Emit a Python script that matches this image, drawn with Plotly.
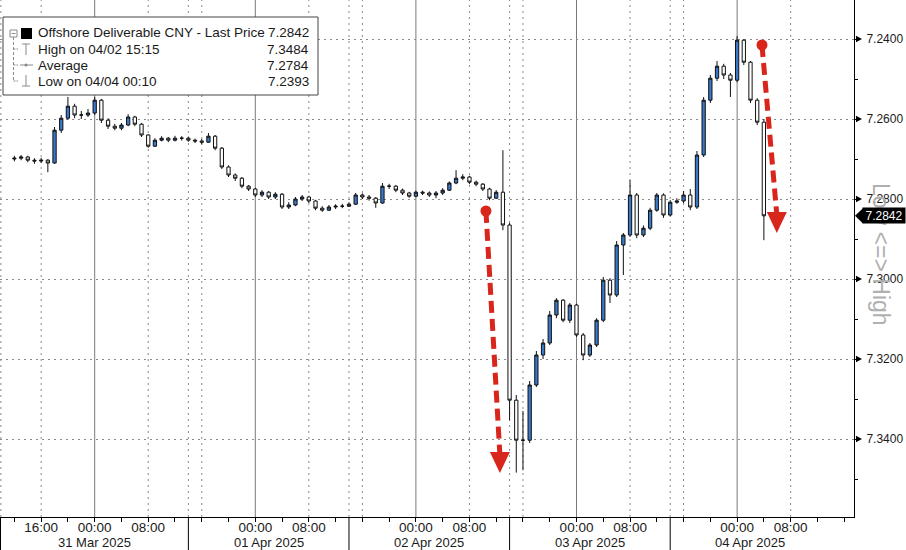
import plotly.graph_objects as go
import pandas as pd

# ---------------- data (hourly candles) ----------------
bar_start = "2025-03-30 12:00"

open_prices = [
    7.2700, 7.2698, 7.2695, 7.2703, 7.2705, 7.2703, 7.2710, 7.2628, 7.2598, 7.2568, 7.2590, 7.2590,
    7.2585, 7.2553, 7.2603, 7.2618, 7.2623, 7.2615, 7.2595, 7.2613, 7.2640, 7.2668, 7.2653, 7.2648,
    7.2653, 7.2648, 7.2648, 7.2653, 7.2655, 7.2658, 7.2643, 7.2673, 7.2720, 7.2740, 7.2748, 7.2768,
    7.2775, 7.2790, 7.2783, 7.2795, 7.2788, 7.2820, 7.2815, 7.2800, 7.2795, 7.2805, 7.2823, 7.2828,
    7.2820, 7.2818, 7.2818, 7.2813, 7.2790, 7.2795, 7.2798, 7.2810, 7.2768, 7.2768, 7.2778, 7.2785,
    7.2793, 7.2783, 7.2785, 7.2790, 7.2785, 7.2778, 7.2760, 7.2748, 7.2745, 7.2758, 7.2763, 7.2775,
    7.2798, 7.2783, 7.2865, 7.3303, 7.3403, 7.3403, 7.3265, 7.3190, 7.3160, 7.3090, 7.3053, 7.3103,
    7.3065, 7.3140, 7.3190, 7.3165, 7.3103, 7.3003, 7.3040, 7.2915, 7.2890, 7.2790, 7.2890, 7.2873,
    7.2828, 7.2790, 7.2840, 7.2808, 7.2805, 7.2790, 7.2820, 7.2690, 7.2553, 7.2498, 7.2468, 7.2490,
    7.2503, 7.2403, 7.2458, 7.2553, 7.2608,
]
high_prices = [
    7.2706, 7.2703, 7.2708, 7.2712, 7.2710, 7.2733, 7.2712, 7.2635, 7.2602, 7.2598, 7.2600, 7.2595,
    7.2590, 7.2610, 7.2625, 7.2628, 7.2628, 7.2618, 7.2618, 7.2645, 7.2672, 7.2670, 7.2656, 7.2658,
    7.2656, 7.2654, 7.2657, 7.2660, 7.2663, 7.2660, 7.2678, 7.2725, 7.2745, 7.2755, 7.2773, 7.2780,
    7.2795, 7.2795, 7.2800, 7.2800, 7.2825, 7.2825, 7.2818, 7.2805, 7.2810, 7.2828, 7.2832, 7.2830,
    7.2825, 7.2823, 7.2820, 7.2815, 7.2800, 7.2804, 7.2822, 7.2812, 7.2775, 7.2783, 7.2790, 7.2797,
    7.2796, 7.2790, 7.2795, 7.2798, 7.2790, 7.2780, 7.2763, 7.2753, 7.2763, 7.2768, 7.2780, 7.2803,
    7.2800, 7.2878, 7.3353, 7.3484, 7.3478, 7.3410, 7.3270, 7.3200, 7.3165, 7.3098, 7.3108, 7.3110,
    7.3145, 7.3203, 7.3195, 7.3170, 7.3108, 7.3060, 7.3045, 7.2990, 7.2895, 7.2898, 7.2895, 7.2878,
    7.2832, 7.2847, 7.2843, 7.2812, 7.2810, 7.2828, 7.2825, 7.2695, 7.2560, 7.2505, 7.2500, 7.2545,
    7.2508, 7.2465, 7.2560, 7.2615, 7.2903,
]
low_prices = [
    7.2692, 7.2690, 7.2692, 7.2698, 7.2697, 7.2700, 7.2620, 7.2590, 7.2545, 7.2562, 7.2580, 7.2575,
    7.2545, 7.2550, 7.2598, 7.2612, 7.2610, 7.2588, 7.2592, 7.2610, 7.2638, 7.2648, 7.2643, 7.2645,
    7.2642, 7.2643, 7.2644, 7.2649, 7.2650, 7.2635, 7.2640, 7.2670, 7.2716, 7.2736, 7.2745, 7.2765,
    7.2772, 7.2778, 7.2780, 7.2783, 7.2785, 7.2808, 7.2795, 7.2790, 7.2792, 7.2802, 7.2818, 7.2815,
    7.2813, 7.2812, 7.2808, 7.2785, 7.2786, 7.2790, 7.2795, 7.2760, 7.2762, 7.2765, 7.2774, 7.2782,
    7.2779, 7.2779, 7.2781, 7.2780, 7.2773, 7.2756, 7.2728, 7.2738, 7.2742, 7.2754, 7.2760, 7.2772,
    7.2778, 7.2678, 7.2860, 7.3290, 7.3330, 7.3255, 7.3180, 7.3150, 7.3080, 7.3048, 7.3050, 7.3060,
    7.3062, 7.3135, 7.3160, 7.3098, 7.2995, 7.2998, 7.2905, 7.2885, 7.2753, 7.2785, 7.2866, 7.2822,
    7.2785, 7.2786, 7.2803, 7.2798, 7.2780, 7.2775, 7.2680, 7.2545, 7.2490, 7.2455, 7.2462, 7.2485,
    7.2393, 7.2400, 7.2455, 7.2548, 7.2600,
]
close_prices = [
    7.2698, 7.2695, 7.2703, 7.2705, 7.2703, 7.2710, 7.2628, 7.2598, 7.2568, 7.2590, 7.2590, 7.2585,
    7.2553, 7.2603, 7.2618, 7.2623, 7.2615, 7.2595, 7.2613, 7.2640, 7.2668, 7.2653, 7.2648, 7.2653,
    7.2648, 7.2648, 7.2653, 7.2655, 7.2658, 7.2643, 7.2673, 7.2720, 7.2740, 7.2748, 7.2768, 7.2775,
    7.2790, 7.2783, 7.2795, 7.2788, 7.2820, 7.2815, 7.2800, 7.2795, 7.2805, 7.2823, 7.2828, 7.2820,
    7.2818, 7.2818, 7.2813, 7.2790, 7.2795, 7.2798, 7.2810, 7.2768, 7.2768, 7.2778, 7.2785, 7.2793,
    7.2783, 7.2785, 7.2790, 7.2785, 7.2778, 7.2760, 7.2748, 7.2745, 7.2758, 7.2763, 7.2775, 7.2798,
    7.2783, 7.2865, 7.3303, 7.3403, 7.3403, 7.3265, 7.3190, 7.3160, 7.3090, 7.3053, 7.3103, 7.3065,
    7.3140, 7.3190, 7.3165, 7.3103, 7.3003, 7.3040, 7.2915, 7.2890, 7.2790, 7.2890, 7.2873, 7.2828,
    7.2790, 7.2840, 7.2808, 7.2805, 7.2790, 7.2820, 7.2690, 7.2553, 7.2498, 7.2468, 7.2490, 7.2503,
    7.2403, 7.2458, 7.2553, 7.2608, 7.2842,
]

legend_labels = ["Offshore Deliverable CNY - Last Price", "High on 04/02 15:15", "Average", "Low on 04/04 00:10"]
legend_values = ["7.2842", "7.3484", "7.2784", "7.2393"]
last_price = 7.2842

# axis definitions
x_range = ["2025-03-30 09:51", "2025-04-04 17:28"]
y_range = [7.3595, 7.23025]
y_tick_vals = [7.24, 7.26, 7.28, 7.30, 7.32, 7.34]
y_tick_text = ["7.2400", "7.2600", "7.2800", "7.3000", "7.3200", "7.3400"]
y_minor_vals = [7.25, 7.27, 7.29, 7.31, 7.33, 7.35]
x_tick_vals = ["2025-03-30 16:00", "2025-03-31 00:00", "2025-03-31 08:00",
               "2025-04-01 00:00", "2025-04-01 08:00", "2025-04-02 00:00", "2025-04-02 08:00",
               "2025-04-03 00:00", "2025-04-03 08:00", "2025-04-04 00:00", "2025-04-04 08:00"]
x_tick_text = ["16:00", "00:00", "08:00", "00:00", "08:00", "00:00", "08:00", "00:00", "08:00", "00:00", "08:00"]
midnight_lines = ["2025-03-31 00:00", "2025-04-01 00:00", "2025-04-02 00:00", "2025-04-03 00:00", "2025-04-04 00:00"]
dotted_lines = ["2025-03-30 16:00", "2025-03-31 08:00", "2025-03-31 16:00", "2025-04-01 08:00", "2025-04-01 16:00",
                "2025-04-02 08:00", "2025-04-02 16:00", "2025-04-03 08:00", "2025-04-03 16:00", "2025-04-04 08:00"]
day_separators = ["2025-03-31 14:00", "2025-04-01 14:00", "2025-04-02 14:00", "2025-04-03 14:00"]
date_labels = ["31 Mar 2025", "01 Apr 2025", "02 Apr 2025", "03 Apr 2025", "04 Apr 2025"]
date_label_pos = ["2025-03-31 00:00", "2025-04-01 02:00", "2025-04-02 02:00", "2025-04-03 02:00", "2025-04-04 01:54"]

# red annotation arrows: (start time, start price, tip time, tip price)
arrows = [
    ("2025-04-02 10:28", 7.2830, "2025-04-02 12:33", 7.3485),
    ("2025-04-04 03:43", 7.2415, "2025-04-04 05:56", 7.2885),
]

# ---------------- figure ----------------
W, H = 906, 550
ML, MR, MT, MB = 0, 52, 0, 33
PW, PH = W - ML - MR, H - MT - MB


def px(x):
    return (x - ML) / PW


def py(y):
    return 1 - (y - MT) / PH


bar_times = pd.date_range(bar_start, periods=len(close_prices), freq="h")

fig = go.Figure()
fig.add_trace(go.Candlestick(
    x=bar_times, open=open_prices, high=high_prices, low=low_prices, close=close_prices,
    increasing=dict(line=dict(color="#111111", width=1), fillcolor="#ffffff"),
    decreasing=dict(line=dict(color="#111111", width=1), fillcolor="#3a78c9"),
    whiskerwidth=0, showlegend=False, hoverinfo="skip",
))

shapes = []
GRID = "#8a8a8a"
for t in midnight_lines:
    shapes.append(dict(type="line", xref="x", yref="paper", x0=t, x1=t, y0=0, y1=1,
                       line=dict(color="#7a7a7a", width=1), layer="below"))
for t in dotted_lines + day_separators:
    shapes.append(dict(type="line", xref="x", yref="paper", x0=t, x1=t, y0=0, y1=1,
                       line=dict(color=GRID, width=1, dash="2px,4px"), layer="below"))
shapes.append(dict(type="line", xref="paper", yref="paper", x0=0.001, x1=0.001, y0=0, y1=1,
                   line=dict(color=GRID, width=1, dash="2px,4px"), layer="below"))
# separators below the axis
for t in day_separators:
    shapes.append(dict(type="line", xref="x", yref="paper", x0=t, x1=t, y0=0, y1=-MB / PH,
                       line=dict(color="#000000", width=1)))
shapes.append(dict(type="line", xref="paper", yref="paper", x0=0.0006, x1=0.0006, y0=0, y1=-MB / PH,
                   line=dict(color="#000000", width=1)))

# y tick triangles
for v in y_tick_vals:
    shapes.append(dict(type="path", xref="paper", yref="y",
                       path=f"M{px(856)},{v - 0.0008} L{px(862)},{v} L{px(856)},{v + 0.0008} Z",
                       fillcolor="#000000", line=dict(color="#000000", width=0)))

# last price tag pointer
lp = last_price
shapes.append(dict(type="path", xref="paper", yref="y",
                   path=(f"M{px(855)},{lp} L{px(863)},{lp - 0.0019} "
                         f"L{px(863)},{lp + 0.0019} Z"),
                   fillcolor="#000000", line=dict(color="#000000", width=0)))

# red arrows
RED = "#d9261c"
for (t0, p0, t1, p1) in arrows:
    shapes.append(dict(type="line", xref="x", yref="y", x0=t0, y0=p0, x1=t1, y1=p1 - 0.0045,
                       line=dict(color=RED, width=5, dash="12px,6px")))
    shapes.append(dict(type="path", xref="x", yref="y", xsizemode="pixel", ysizemode="pixel",
                       xanchor=t1, yanchor=p1, path="M-10,21 L10,21 L0,0 Z",
                       fillcolor=RED, line=dict(color=RED, width=0)))
    shapes.append(dict(type="circle", xref="x", yref="y", xsizemode="pixel", ysizemode="pixel",
                       xanchor=t0, yanchor=p0, x0=-5.5, x1=5.5, y0=-5.5, y1=5.5,
                       fillcolor=RED, line=dict(color=RED, width=0)))

# legend box
shapes.append(dict(type="rect", xref="paper", yref="paper", x0=px(3), x1=px(318), y0=py(95), y1=py(17),
                   fillcolor="#ffffff", line=dict(color="#444444", width=1)))
ICON = "#8a8a8a"
shapes += [
    dict(type="rect", xref="paper", yref="paper", x0=px(10), x1=px(17), y0=py(37), y1=py(30),
         line=dict(color=ICON, width=1), fillcolor="#ffffff"),
    dict(type="line", xref="paper", yref="paper", x0=px(11.5), x1=px(15.5), y0=py(33.5), y1=py(33.5),
         line=dict(color=ICON, width=1)),
    dict(type="line", xref="paper", yref="paper", x0=px(13.5), x1=px(13.5), y0=py(37), y1=py(81),
         line=dict(color=ICON, width=1, dash="3px,2px")),
    dict(type="rect", xref="paper", yref="paper", x0=px(21), x1=px(32), y0=py(39), y1=py(28),
         fillcolor="#000000", line=dict(color="#000000", width=0)),
    # high icon
    dict(type="line", xref="paper", yref="paper", x0=px(22), x1=px(30), y0=py(44), y1=py(44),
         line=dict(color=ICON, width=1)),
    dict(type="line", xref="paper", yref="paper", x0=px(26), x1=px(26), y0=py(44), y1=py(55),
         line=dict(color=ICON, width=1)),
    # average icon
    dict(type="line", xref="paper", yref="paper", x0=px(20), x1=px(33), y0=py(65), y1=py(65),
         line=dict(color=ICON, width=1)),
    dict(type="circle", xref="paper", yref="paper", x0=px(24.5), x1=px(27.5), y0=py(66.5), y1=py(63.5),
         fillcolor=ICON, line=dict(color=ICON, width=0)),
    # low icon
    dict(type="line", xref="paper", yref="paper", x0=px(26), x1=px(26), y0=py(75), y1=py(86),
         line=dict(color=ICON, width=1)),
    dict(type="line", xref="paper", yref="paper", x0=px(22), x1=px(30), y0=py(86), y1=py(86),
         line=dict(color=ICON, width=1)),
]
for yy in (49, 65, 81):
    shapes.append(dict(type="line", xref="paper", yref="paper", x0=px(13.5), x1=px(18), y0=py(yy), y1=py(yy),
                       line=dict(color=ICON, width=1, dash="2px,1px")))

annotations = []
FONT = "Liberation Sans, Arial, sans-serif"
for i, (lab, val) in enumerate(zip(legend_labels, legend_values)):
    yy = 33 + 16 * i
    annotations.append(dict(xref="paper", yref="paper", x=px(36), y=py(yy), text=lab, showarrow=False,
                            xanchor="left", yanchor="middle", font=dict(family=FONT, size=13.5, color="#1a1a1a")))
    annotations.append(dict(xref="paper", yref="paper", x=px(311), y=py(yy), text=val, showarrow=False,
                            xanchor="right", yanchor="middle", font=dict(family=FONT, size=13.5, color="#1a1a1a")))

for lab, t in zip(date_labels, date_label_pos):
    annotations.append(dict(xref="x", yref="paper", x=t, y=py(542), text=lab, showarrow=False,
                            xanchor="center", yanchor="middle", font=dict(family=FONT, size=13, color="#1a1a1a")))

annotations.append(dict(xref="paper", yref="paper", x=px(881), y=py(255), text="Low &lt;=&gt; High",
                        textangle=90, showarrow=False, xanchor="center", yanchor="middle",
                        font=dict(family=FONT, size=23, color="#b0b0b0")))
# last price tag body (drawn above the grey text)
annotations.append(dict(xref="paper", yref="y", x=px(862), y=last_price, text=f"{last_price:.4f}",
                        showarrow=False, xanchor="left", yanchor="middle",
                        width=42, height=15, align="center", bgcolor="#000000", borderpad=0,
                        font=dict(family=FONT, size=12, color="#ffffff")))

minor_x = pd.date_range("2025-03-30 12:00", "2025-04-04 16:00", freq="4h")

fig.update_layout(
    width=W, height=H, margin=dict(l=ML, r=MR, t=MT, b=MB, autoexpand=False),
    paper_bgcolor="#ffffff", plot_bgcolor="#ffffff",
    showlegend=False, shapes=shapes, annotations=annotations,
    font=dict(family=FONT, color="#1a1a1a"),
    xaxis=dict(
        type="date", range=x_range, rangeslider=dict(visible=False),
        tickmode="array", tickvals=x_tick_vals, ticktext=x_tick_text,
        ticks="outside", ticklen=4, tickcolor="#000000", ticklabelstandoff=-6,
        minor=dict(tickmode="array", tickvals=list(minor_x), ticks="outside", ticklen=4, tickcolor="#000000"),
        showgrid=False, zeroline=False, showline=True, linecolor="#000000", linewidth=1,
        tickfont=dict(family=FONT, size=13.5, color="#1a1a1a"),
    ),
    yaxis=dict(
        side="right", range=y_range,
        tickmode="array", tickvals=y_tick_vals, ticktext=y_tick_text,
        ticks="outside", ticklen=3, tickcolor="#000000", ticklabelstandoff=6,
        minor=dict(tickmode="array", tickvals=y_minor_vals, ticks="outside", ticklen=3, tickcolor="#000000"),
        showgrid=True, gridcolor=GRID, griddash="2px,4px", gridwidth=1,
        zeroline=False, showline=True, linecolor="#000000", linewidth=1,
        tickfont=dict(family=FONT, size=12, color="#1a1a1a"),
    ),
)

fig.write_html("out.html", config={"displayModeBar": False},
               post_script="document.body.style.margin='0';document.body.style.overflow='hidden';")
